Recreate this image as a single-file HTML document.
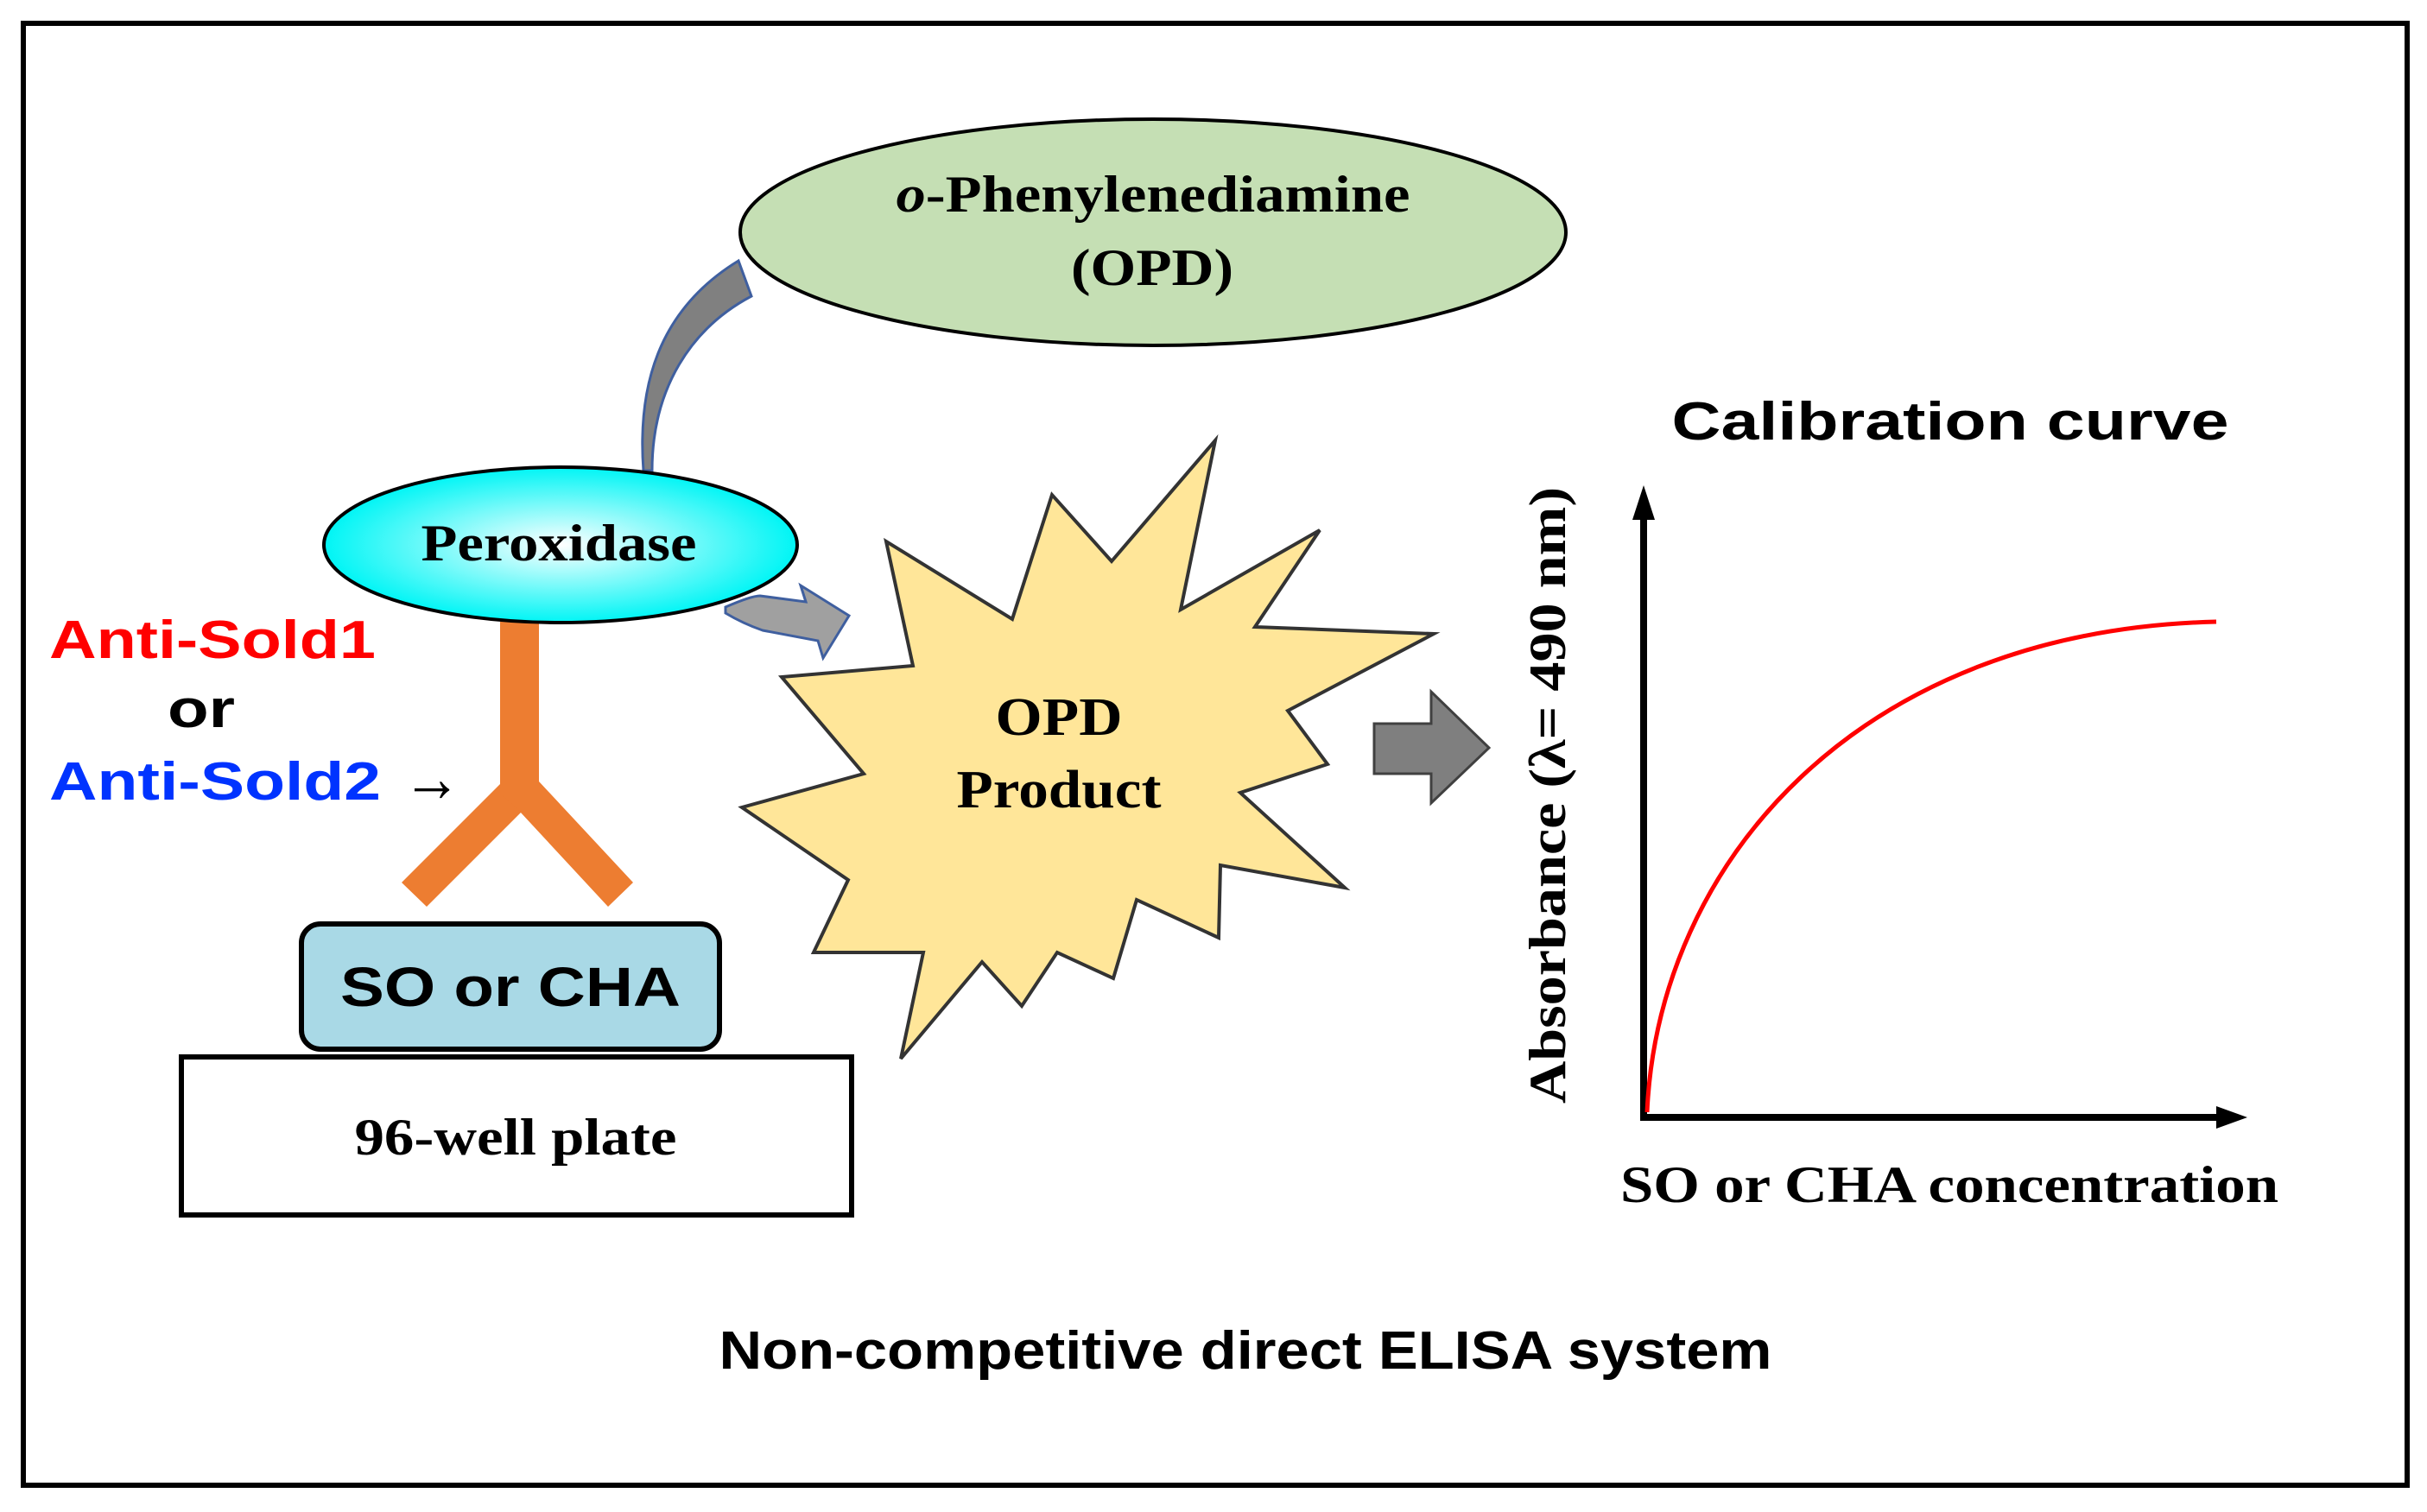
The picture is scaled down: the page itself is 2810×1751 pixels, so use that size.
<!DOCTYPE html>
<html><head><meta charset="utf-8"><style>
html,body{margin:0;padding:0;background:#fff;}
svg{display:block;}
text{font-family:"Liberation Serif",serif;font-weight:bold;}
.s{font-family:"Liberation Sans",sans-serif;font-weight:bold;}
</style></head><body>
<svg width="2810" height="1751" viewBox="0 0 2810 1751" xmlns="http://www.w3.org/2000/svg">
<defs>
<radialGradient id="cy" cx="0.5" cy="0.5" r="0.5">
<stop offset="0" stop-color="#ffffff"/><stop offset="1" stop-color="#00f5f5"/>
</radialGradient>
</defs>
<rect x="27" y="27" width="2760" height="1693" fill="#fff" stroke="#000" stroke-width="6"/>

<ellipse cx="1335" cy="269" rx="478" ry="131" fill="#c5dfb4" stroke="#000" stroke-width="4"/>
<text x="1335" y="245" font-size="60" text-anchor="middle" textLength="595" lengthAdjust="spacingAndGlyphs"><tspan font-style="italic">o</tspan>-Phenylenediamine</text>
<text x="1334" y="330" font-size="60" text-anchor="middle" textLength="188" lengthAdjust="spacingAndGlyphs">(OPD)</text>

<path d="M745,545 C738,450 760,360 855,302 L870,343 C800,380 755,450 755,545 Z" fill="#808080" stroke="#3f5f9f" stroke-width="3"/>

<rect x="579" y="720" width="45" height="195" fill="#ed7d31"/>
<polygon points="579,905 624,905 624,920 494,1050 465,1022 579,908" fill="#ed7d31"/>
<polygon points="579,905 624,905 733,1022 704,1050 602,940 579,918" fill="#ed7d31"/>

<ellipse cx="649" cy="631" rx="274" ry="90" fill="url(#cy)" stroke="#000" stroke-width="4"/>
<text x="647" y="649" font-size="60" text-anchor="middle" textLength="319" lengthAdjust="spacingAndGlyphs">Peroxidase</text>

<path d="M840,703 Q870,690 880,690 L933,697 L927,678 L983,713 L953,762 L947,742 L883,730 Q860,722 840,710 Z" fill="#a0a0a0" stroke="#3f5f9f" stroke-width="3"/>

<text class="s" x="57" y="762" font-size="62" fill="#ff0000" textLength="378" lengthAdjust="spacingAndGlyphs">Anti-Sold1</text>
<text class="s" x="194" y="842" font-size="62" fill="#000" textLength="78" lengthAdjust="spacingAndGlyphs">or</text>
<text class="s" x="57" y="926" font-size="62" fill="#0033ff" textLength="384" lengthAdjust="spacingAndGlyphs">Anti-Sold2</text>
<text x="466" y="928" font-size="80" font-weight="normal" textLength="68" lengthAdjust="spacingAndGlyphs">→</text>

<rect x="349" y="1070" width="484" height="145" rx="22" fill="#a9d9e6" stroke="#000" stroke-width="6"/>
<text class="s" x="591" y="1165" font-size="64" text-anchor="middle" textLength="394" lengthAdjust="spacingAndGlyphs">SO or CHA</text>

<rect x="210" y="1224" width="776" height="183" fill="#fff" stroke="#000" stroke-width="6"/>
<text x="597" y="1337" font-size="60" text-anchor="middle" textLength="373" lengthAdjust="spacingAndGlyphs">96-well plate</text>

<polygon points="1407,510 1367,706 1528,614 1453,726 1660,734 1491,823 1537,885 1436,918 1557,1028 1413,1002 1411,1086 1316,1042 1289,1133 1224,1103 1183,1165 1137,1114 1043,1226 1069,1103 942,1103 982,1019 859,935 1000,896 905,784 1057,771 1026,627 1172,717 1218,573 1287,650" fill="#ffe699" stroke="#333" stroke-width="4"/>
<text x="1226" y="851" font-size="62" text-anchor="middle" textLength="147" lengthAdjust="spacingAndGlyphs">OPD</text>
<text x="1226" y="935" font-size="62" text-anchor="middle" textLength="237" lengthAdjust="spacingAndGlyphs">Product</text>

<polygon points="1591,838 1657,838 1657,801 1724,866 1657,930 1657,896 1591,896" fill="#7f7f7f" stroke="#404040" stroke-width="3"/>

<text class="s" x="2258" y="509" font-size="62" text-anchor="middle" textLength="645" lengthAdjust="spacingAndGlyphs" font-weight="900">Calibration curve</text>
<line x1="1903" y1="600" x2="1903" y2="1298" stroke="#000" stroke-width="8"/>
<polygon points="1903,562 1890,602 1916,602" fill="#000"/>
<line x1="1899" y1="1294" x2="2570" y2="1294" stroke="#000" stroke-width="8"/>
<polygon points="2602,1294 2566,1281 2566,1307" fill="#000"/>
<path d="M1907,1288 C1920,1000 2150,730 2566,720" fill="none" stroke="#ff0000" stroke-width="5"/>
<text x="0" y="0" font-size="60" text-anchor="middle" textLength="714" lengthAdjust="spacingAndGlyphs" transform="translate(1812,921) rotate(-90)">Absorbance (λ= 490 nm)</text>
<text x="2257" y="1392" font-size="60" text-anchor="middle" textLength="762" lengthAdjust="spacingAndGlyphs">SO or CHA concentration</text>

<text class="s" x="1442" y="1585" font-size="62" text-anchor="middle" textLength="1219" lengthAdjust="spacingAndGlyphs">Non-competitive direct ELISA system</text>
</svg>
</body></html>
